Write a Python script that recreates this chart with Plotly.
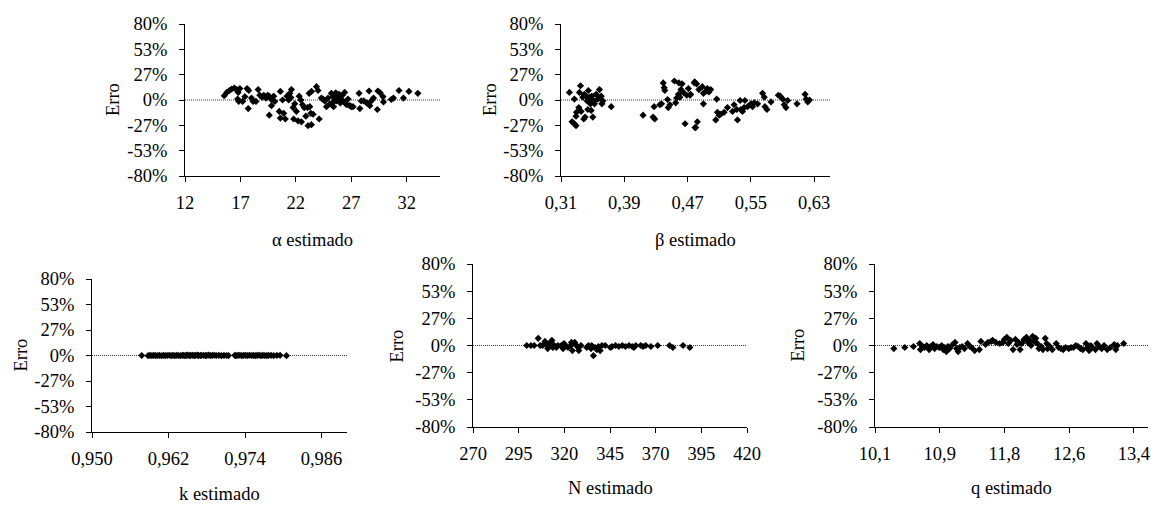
import plotly.graph_objects as go

# ---------------- data ----------------
alpha_est = [15.54, 15.77, 16.0, 16.2, 16.45, 16.66, 16.8, 16.95, 16.75, 16.85, 17.2, 17.4, 17.6, 17.75, 17.7,
             18.0, 18.15, 18.4, 18.6, 18.75, 18.95, 19.1, 19.3, 19.45, 19.6, 19.75, 19.8, 20.0, 20.1, 20.6, 20.8,
             19.6, 20.5, 20.6, 20.9, 21.05, 21.2, 21.35, 21.45, 21.55, 21.6, 21.75, 21.9, 22.05, 22.2, 22.3, 22.45,
             22.6, 22.75, 22.9, 23.05, 23.1, 23.2, 23.35, 21.8, 22.5,
             23.41, 23.86, 24.0, 23.26, 23.56, 23.4, 24.1, 24.3, 24.6, 24.76, 24.9, 25.06, 25.2, 25.36, 25.4, 25.6,
             25.65, 25.8, 25.96, 26.0, 26.2, 26.25, 26.4, 26.5, 26.7, 26.86, 27.0, 27.16, 27.7, 27.77, 27.9, 28.13,
             28.37, 28.6, 28.67, 28.8, 29.0, 29.35, 29.4, 29.6, 29.86, 29.9, 30.6, 30.8, 31.3, 31.7, 32.2, 33.0,
             25.5, 26.1, 25.9, 26.6, 25.3, 24.45]
alpha_err = [0.045, 0.08, 0.10, 0.115, 0.125, 0.11, 0.08, 0.12, 0.01, -0.015, -0.015, 0.035, 0.12, 0.10, -0.09,
             0.02, -0.015, -0.015, 0.11, 0.05, 0.03, 0.05, 0.02, 0.05, 0.04, 0.01, -0.06, 0.04, -0.015, 0.09, 0.0,
             -0.16, -0.12, -0.19, -0.14, -0.20, 0.04, 0.0, 0.07, 0.025, 0.11, -0.08, -0.04, -0.12, -0.22, 0.04, 0.0,
             -0.05, -0.08, -0.17, -0.08, -0.27, 0.07, -0.14, -0.20, -0.23,
             0.09, 0.14, 0.10, -0.07, -0.15, -0.26, -0.20, 0.02, -0.01, -0.07, 0.02, -0.04, 0.07, 0.035, -0.07, 0.075,
             -0.01, 0.04, 0.02, -0.03, 0.05, -0.01, 0.08, -0.04, 0.01, -0.06, -0.07, -0.07, 0.07, -0.09, -0.01, -0.01,
             -0.03, 0.095, -0.06, -0.01, 0.02, -0.10, 0.095, 0.075, 0.035, -0.02, 0.005, 0.02, 0.10, 0.02, 0.09, 0.07,
             0.0, -0.02, 0.06, -0.05, -0.03, 0.01]

beta_est = [0.3206, 0.3269, 0.3269, 0.329, 0.324, 0.3296, 0.329, 0.3333, 0.3346, 0.3354, 0.3375, 0.3388, 0.3404,
            0.3417, 0.343, 0.3439, 0.3446, 0.3459, 0.3472, 0.3481, 0.349, 0.3502, 0.3515, 0.3523, 0.3544, 0.3566,
            0.3586, 0.3608, 0.3617, 0.3629, 0.3735, 0.3395, 0.3455, 0.3325,
            0.4137, 0.4264, 0.4285, 0.4277, 0.4349, 0.437, 0.4392, 0.4404, 0.4412, 0.4447, 0.4456, 0.4477, 0.4533,
            0.455, 0.4562, 0.4584, 0.459, 0.4603, 0.4616, 0.463, 0.4647, 0.4668, 0.4689, 0.471, 0.473, 0.4786, 0.4794,
            0.4738, 0.4789, 0.4814, 0.4843, 0.4886, 0.49, 0.4929, 0.495, 0.497, 0.4992, 0.49, 0.4823, 0.4802,
            0.5056, 0.5077, 0.5098, 0.5119, 0.5068, 0.5161, 0.5204, 0.5268, 0.5288, 0.5322, 0.5331, 0.5364, 0.5373,
            0.5394, 0.5415, 0.5424, 0.5458, 0.55, 0.5521, 0.5542, 0.5585, 0.5648, 0.5669, 0.5678, 0.5703, 0.5754,
            0.5847, 0.5872, 0.5902, 0.5922, 0.5944, 0.5965, 0.6083, 0.6185, 0.6198, 0.6219, 0.6241]
beta_err = [0.08, 0.01, -0.25, -0.27, -0.23, -0.13, -0.17, 0.08, 0.15, -0.12, 0.03, -0.20, -0.18,
            0.04, -0.01, -0.10, 0.10, 0.03, -0.04, -0.11, 0.04, -0.18, -0.01, -0.04, 0.06, 0.01,
            0.11, 0.04, -0.04, -0.01, -0.07, 0.06, 0.0, -0.08,
            -0.16, -0.18, -0.20, -0.07, -0.05, -0.04, 0.18, 0.13, 0.10, 0.005, -0.08, -0.05, 0.20,
            -0.03, 0.02, 0.06, 0.18, 0.03, 0.11, 0.17, 0.08, -0.25, 0.05, 0.12, 0.05, 0.18, -0.29,
            0.06, 0.19, 0.17, 0.11, 0.14, 0.07, 0.09, 0.12, 0.085, 0.11, -0.04, -0.23, -0.29,
            -0.21, -0.13, -0.16, -0.15, 0.01, -0.13, -0.08, -0.12, -0.05, -0.10, -0.21, -0.005, -0.10,
            -0.12, -0.08, -0.005, -0.07, -0.04, -0.07, -0.03, -0.04, 0.07, 0.03, -0.07, -0.10, -0.02,
            0.05, 0.04, 0.01, -0.05, -0.08, -0.005, -0.04, 0.06, 0.01, -0.02, 0.0]

k_est = [0.9578, 0.9588, 0.9591, 0.9594, 0.9597, 0.9600, 0.9603, 0.9606, 0.9609, 0.9612, 0.9615, 0.9618, 0.9621,
         0.9624, 0.9627, 0.9630, 0.9633, 0.9636, 0.9639, 0.9642, 0.9644, 0.9646, 0.9648, 0.9650, 0.9653, 0.9655,
         0.9658, 0.9660, 0.9662, 0.9665, 0.9667, 0.9670, 0.9672, 0.9675, 0.9678, 0.9680, 0.9683, 0.9686, 0.9689,
         0.9692, 0.9695, 0.9699, 0.9703, 0.9707, 0.9711, 0.9714, 0.9724, 0.9726, 0.9729, 0.9732, 0.9735, 0.9738,
         0.9741, 0.9744, 0.9747, 0.9750, 0.9753, 0.9756, 0.9759, 0.9762, 0.9765, 0.9768, 0.9771, 0.9774, 0.9777,
         0.9781, 0.9785, 0.9790, 0.9795, 0.9805]
k_err = [0.0, -0.002, 0.001, -0.001, 0.002, -0.002, 0.0, 0.001, -0.003, 0.002, -0.001, 0.0, 0.003,
         -0.002, 0.001, -0.001, 0.002, 0.0, -0.002, 0.003, 0.001, -0.003, 0.002, 0.004, -0.001, 0.002,
         0.003, -0.002, 0.001, 0.004, -0.001, 0.002, 0.0, 0.003, -0.002, 0.001, 0.004, -0.001, 0.002,
         0.003, 0.0, 0.002, -0.002, 0.001, 0.0, -0.001, 0.002, -0.001, 0.001, 0.003, -0.002, 0.002,
         0.001, -0.001, 0.003, 0.0, 0.002, -0.002, 0.001, 0.003, -0.001, 0.002, 0.0, -0.002, 0.001,
         0.002, -0.001, 0.001, 0.002, -0.002]

N_est = [299.4, 301.7, 303.5, 305.7, 306.8, 308.1, 309.4, 310.0, 310.9, 311.3, 312.4, 313.2, 313.7, 314.6,
         315.6, 316.5, 318.3, 319.3, 319.8, 320.6, 322.0, 323.5, 323.9, 324.4, 325.4, 325.7, 326.7, 327.6,
         327.9, 329.1, 332.2, 333.2, 334.6, 335.0, 335.9, 336.9, 337.8, 338.7, 339.6, 340.6, 342.4, 345.2,
         346.1, 348.0, 349.8, 351.7, 353.5, 355.4, 357.2, 358.1, 359.1, 361.8, 363.1, 364.6, 367.4, 371.1,
         377.6, 379.4, 385.0, 388.7]
N_err = [0.0, 0.0, 0.0, 0.07, 0.0, 0.0, 0.04, 0.01, -0.03, 0.0, 0.03, 0.05, -0.02, 0.0,
         -0.02, 0.0, 0.0, -0.03, 0.02, 0.0, -0.02, 0.0, 0.03, -0.05, 0.02, 0.03, 0.0, -0.02,
         -0.05, 0.0, -0.02, 0.0, -0.03, 0.0, -0.10, -0.02, -0.04, -0.01, -0.05, 0.0, 0.0, -0.02,
         -0.01, 0.0, -0.01, 0.0, -0.01, 0.0, -0.01, -0.02, 0.0, 0.0, -0.01, 0.0, -0.01, 0.0,
         0.0, -0.02, 0.0, -0.02]

q_est = [10.34, 10.48, 10.59, 10.67, 10.68, 10.71, 10.73, 10.76, 10.79, 10.81, 10.84, 10.86, 10.89, 10.92,
         10.95, 10.97, 10.99, 11.01, 11.03, 11.05, 11.09, 11.12, 11.14, 11.16, 11.18, 11.21, 11.24, 11.28,
         11.31, 11.33, 11.37, 11.43, 11.45, 11.51, 11.54, 11.58, 11.60, 11.64, 11.69, 11.73, 11.75, 11.78,
         11.80, 11.83, 11.86, 11.89, 11.91, 11.93, 11.95, 11.97, 12.00, 12.03, 12.05, 12.07, 12.09, 12.11,
         12.13, 12.15, 12.17, 12.19, 12.22, 12.24, 12.27, 12.29, 12.30, 12.33, 12.36, 12.41, 12.44, 12.47,
         12.50, 12.53, 12.57, 12.60, 12.63, 12.66, 12.69, 12.72, 12.75, 12.79, 12.81, 12.83, 12.85, 12.87,
         12.91, 12.93, 12.96, 12.99, 13.02, 13.06, 13.10, 13.15, 13.17, 13.19, 13.27]
q_err = [-0.03, -0.02, -0.01, 0.02, -0.04, -0.01, -0.02, 0.0, -0.04, -0.01, 0.01, -0.03, -0.01, -0.02,
         0.0, -0.04, -0.02, -0.06, -0.01, -0.03, 0.01, 0.03, -0.03, -0.06, -0.02, -0.01, -0.03, 0.02,
         -0.01, -0.02, -0.05, -0.04, 0.04, 0.01, 0.03, 0.04, 0.05, 0.03, 0.02, 0.03, 0.06, 0.08,
         0.02, 0.05, -0.04, 0.06, 0.01, 0.03, -0.04, 0.02, 0.06, 0.08, 0.03, 0.05, 0.0, 0.09,
         0.04, 0.07, 0.02, -0.03, -0.01, -0.04, 0.07, 0.02, -0.03, -0.01, -0.04, 0.02, -0.02, -0.03,
         -0.04, -0.02, -0.03, -0.02, -0.02, 0.0, -0.01, -0.03, -0.04, 0.02, -0.02, -0.05, 0.0, -0.02,
         -0.04, 0.02, -0.01, -0.03, 0.0, -0.04, -0.02, 0.01, -0.04, 0.0, 0.02]

y_tickvals = [-0.8, -0.5333, -0.2667, 0.0, 0.2667, 0.5333, 0.8]
y_ticktext = ["-80%", "-53%", "-27%", "0%", "27%", "53%", "80%"]

panels = [
    (alpha_est, alpha_err, [12, 17, 22, 27, 32], ["12", "17", "22", "27", "32"], [12, 35], "α estimado",
     (185, 440), (24, 176), (113, 240)),
    (beta_est, beta_err, [0.31, 0.39, 0.47, 0.55, 0.63], ["0,31", "0,39", "0,47", "0,55", "0,63"], [0.31, 0.65],
     "β estimado", (561, 830), (24, 176), (490, 240)),
    (k_est, k_err, [0.950, 0.962, 0.974, 0.986], ["0,950", "0,962", "0,974", "0,986"], [0.950, 0.990],
     "k estimado", (92, 347), (279, 432), (20, 494)),
    (N_est, N_err, [270, 295, 320, 345, 370, 395, 420], ["270", "295", "320", "345", "370", "395", "420"],
     [270, 420], "N estimado", (473, 747), (264, 427), (396, 488)),
    (q_est, q_err, [10.1, 10.925, 11.75, 12.575, 13.4], ["10,1", "10,9", "11,8", "12,6", "13,4"], [10.1, 13.58],
     "q estimado", (875, 1148), (264, 427), (797, 488)),
]

W, H = 1156, 505
FONT = "Liberation Serif, Times New Roman, serif"
FS = 18.5

fig = go.Figure()
layout = dict(
    template="none",
    width=W, height=H, margin=dict(l=0, r=0, t=0, b=0, pad=0), autosize=False,
    paper_bgcolor="white", plot_bgcolor="white", showlegend=False,
    font=dict(family=FONT, size=FS, color="black"),
)
shapes = []
annotations = []

for i, (xs, ys, xt, xtt, xr, title, xd, yd, pos) in enumerate(panels):
    n = "" if i == 0 else str(i + 1)
    fig.add_trace(go.Scatter(
        x=xs, y=ys, mode="markers", xaxis="x" + n, yaxis="y" + n,
        marker=dict(symbol="diamond", size=5.5, color="black", line=dict(width=0)),
    ))
    layout["xaxis" + n] = dict(
        domain=[xd[0] / W, xd[1] / W], anchor="y" + n, range=xr, automargin=False,
        tickmode="array", tickvals=xt, ticktext=xtt, showgrid=False, zeroline=False,
        showline=True, linecolor="black", linewidth=1,
        ticks="outside", ticklen=5, tickcolor="black", tickwidth=1,
        ticklabelstandoff=5, tickfont=dict(size=FS, family=FONT, color="black"),
    )
    layout["yaxis" + n] = dict(
        domain=[1 - yd[1] / H, 1 - yd[0] / H], anchor="x" + n, range=[-0.8, 0.8], automargin=False,
        tickmode="array", tickvals=y_tickvals, ticktext=y_ticktext, showgrid=False, zeroline=False,
        showline=True, linecolor="black", linewidth=1,
        ticks="outside", ticklen=5, tickcolor="black", tickwidth=1,
        ticklabelstandoff=8, tickfont=dict(size=FS, family=FONT, color="black"),
    )
    shapes.append(dict(
        type="line", xref="x" + n + " domain", yref="y" + n, x0=0, x1=1, y0=0, y1=0,
        line=dict(color="#333333", width=1, dash="1px,1px"), layer="below",
    ))
    annotations.append(dict(
        text=title, xref="paper", yref="paper", x=(xd[0] + xd[1]) / 2 / W, y=1 - pos[1] / H,
        showarrow=False, xanchor="center", yanchor="middle",
        font=dict(size=FS, family=FONT, color="black"),
    ))
    annotations.append(dict(
        text="Erro", xref="paper", yref="paper", x=pos[0] / W, y=1 - ((yd[0] + yd[1]) / 2) / H,
        showarrow=False, xanchor="center", yanchor="middle", textangle=-90,
        font=dict(size=FS, family=FONT, color="black"),
    ))

layout["shapes"] = shapes
layout["annotations"] = annotations
fig.update_layout(**layout)
fig.write_html("out.html", config={"displayModeBar": False},
               post_script="document.body.style.margin='0';document.body.style.overflow='hidden';")
